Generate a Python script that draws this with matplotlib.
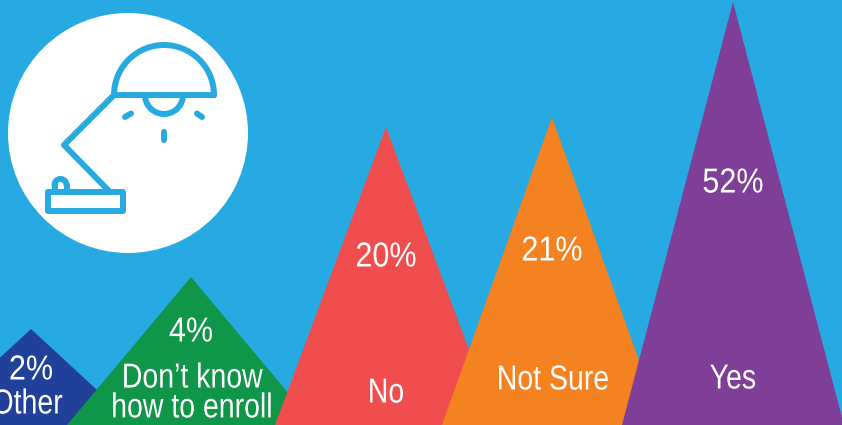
import matplotlib
matplotlib.use("Agg")
import matplotlib.pyplot as plt
from matplotlib.patches import Arc, Circle, Polygon, Rectangle
from matplotlib.patheffects import AbstractPathEffect
from matplotlib.transforms import Affine2D
import numpy as np

WIDTH, HEIGHT = 842, 425

categories = ["Other", "Don\u2019t know\nhow to enroll", "No", "Not Sure", "Yes"]
percent = [2, 4, 20, 21, 52]
colours = ["#21409A", "#0F9648", "#F04E4E", "#F58220", "#7F3F98"]

# layout of the peaks, in pixels
peak_x = [31, 191, 386, 552, 733]
half_base = [104, 124, 111, 110, 111]
value_y = [370, 332, 257, 251, 183]
name_x = [27, 192, 386, 553, 733]
name_y = [404, 393, 393, 380, 379]

# the peaks grow by a hand-tuned, compressed scale rather than a linear one
scale_values = [0, 2, 4, 20, 21, 52, 100]
scale_pixels = [0, 96, 148, 298, 308, 423, 600]

BACKGROUND = "#27AAE1"
ICON_LW = 4.3


class Condensed(AbstractPathEffect):
    """Squeeze each line of a text horizontally about its own centre."""

    def __init__(self, factor):
        super().__init__()
        self.factor = factor

    def draw_path(self, renderer, gc, tpath, affine, rgbFace=None):
        box = tpath.get_extents()
        cx = (box.x0 + box.x1) / 2
        squeeze = Affine2D().translate(-cx, 0).scale(self.factor, 1).translate(cx, 0)
        renderer.draw_path(gc, tpath, squeeze + affine, rgbFace)


def to_pixels(v):
    return np.interp(v, scale_values, scale_pixels)


def from_pixels(p):
    return np.interp(p, scale_pixels, scale_values)


def draw_lamp(ax):
    line = dict(color=BACKGROUND, lw=ICON_LW, solid_capstyle="round", solid_joinstyle="round")
    arc = dict(color=BACKGROUND, lw=ICON_LW, capstyle="round")

    # shade and bulb
    ax.add_patch(Arc((164, 95), 100, 100, theta1=180, theta2=360, **arc))
    ax.add_patch(Arc((164, 95), 38, 38, theta1=0, theta2=180, **arc))
    ax.plot([114, 214], [95, 95], **line)

    # arm
    ax.plot([114, 64, 108], [95, 145, 190], **line)

    # rays
    ax.plot([125, 131], [117, 113.5], **line)
    ax.plot([163.5, 163.5], [132, 140], **line)
    ax.plot([197, 202], [113.5, 117], **line)

    # base and switch
    ax.add_patch(Rectangle((48, 192), 75, 19, fill=False, ec=BACKGROUND, lw=ICON_LW, joinstyle="round"))
    ax.add_patch(Arc((60.5, 185), 12, 12, theta1=180, theta2=360, **arc))
    ax.plot([54.5, 54.5], [185, 191], **line)
    ax.plot([66.5, 66.5], [185, 191], **line)


plt.rcParams["font.family"] = ["Liberation Sans", "DejaVu Sans"]

fig = plt.figure(figsize=(WIDTH / 100, HEIGHT / 100), dpi=100, facecolor=BACKGROUND)

# peaks are drawn on a value axis
ax = fig.add_axes([0, 0, 1, 1])
ax.set_facecolor(BACKGROUND)
ax.set_yscale("function", functions=(to_pixels, from_pixels))
ax.set_xlim(0, WIDTH)
ax.set_ylim(0, from_pixels(HEIGHT))
ax.axis("off")

for i in range(len(percent)):
    ax.add_patch(
        Polygon(
            [
                (peak_x[i] - half_base[i], 0),
                (peak_x[i], percent[i]),
                (peak_x[i] + half_base[i], 0),
            ],
            closed=True,
            fc=colours[i],
            ec="none",
        )
    )

# pixel overlay for the icon and the labels
top = fig.add_axes([0, 0, 1, 1])
top.patch.set_alpha(0)
top.set_xlim(0, WIDTH)
top.set_ylim(HEIGHT, 0)
top.axis("off")

top.add_patch(Circle((128, 133), 120, fc="white", ec="none"))
draw_lamp(top)

for i in range(len(percent)):
    top.text(peak_x[i], value_y[i], f"{percent[i]}%", color="white", fontsize=25,
             ha="center", va="center", path_effects=[Condensed(0.88)])
    top.text(name_x[i], name_y[i], categories[i], color="white", fontsize=25,
             ha="center", va="center", linespacing=0.88, path_effects=[Condensed(0.82)])

fig.savefig("out.png", dpi=100, facecolor=BACKGROUND)
plt.close(fig)
